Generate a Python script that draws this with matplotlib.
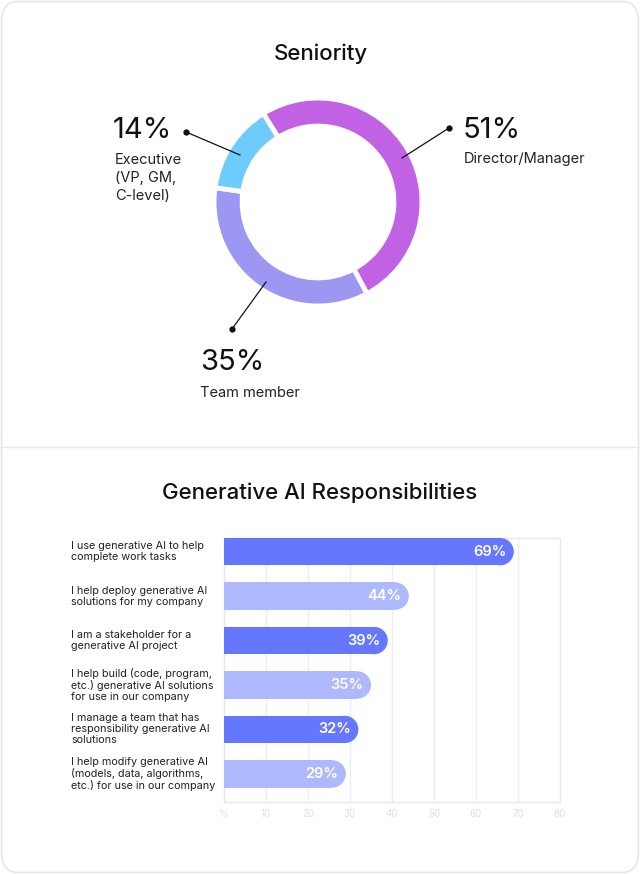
import matplotlib
matplotlib.use("Agg")
import matplotlib.pyplot as plt
from matplotlib.patches import FancyBboxPatch, Ellipse
from matplotlib.lines import Line2D

plt.rcParams['font.family'] = ['Inter', 'DejaVu Sans']

# seniority donut
sen_labels = ["Director/Manager", "Team member", "Executive\n(VP, GM,\nC-level)"]
sen_values = [51, 35, 14]
sen_colors = ["#c062e3", "#9c97f3", "#6dcbfd"]

# responsibilities bars
resp_labels = [
    "I use generative AI to help\ncomplete work tasks",
    "I help deploy generative AI\nsolutions for my company",
    "I am a stakeholder for a\ngenerative AI project",
    "I help build (code, program,\netc.) generative AI solutions\nfor use in our company",
    "I manage a team that has\nresponsibility generative AI\nsolutions",
    "I help modify generative AI\n(models, data, algorithms,\netc.) for use in our company",
]
resp_values = [69, 44, 39, 35, 32, 29]
resp_colors = ["#6477fd", "#aeb8fd"] * 3
x_ticks = [0, 10, 20, 30, 40, 50, 60, 70, 80]
x_ticklabels = ["%", "10", "20", "30", "40", "50", "60", "70", "80"]

W, H = 640, 874
fig = plt.figure(figsize=(W / 100, H / 100), dpi=100)


def fx(x):
    return x / W


def fy(y):
    return 1 - y / H


def px_axes(x0, y0, x1, y1):
    return fig.add_axes([fx(x0), fy(y1), fx(x1) - fx(x0), (y1 - y0) / H])


# card border and divider
border = FancyBboxPatch((fx(1.5), fy(872.5)), fx(637), (871 / H),
                        boxstyle="round,pad=0,rounding_size=0.025",
                        transform=fig.transFigure, facecolor="white",
                        edgecolor="#e3e6f0", lw=1.2, zorder=-5)
fig.add_artist(border)
fig.add_artist(Line2D([fx(1), fx(639)], [fy(447), fy(447)], color="#e6e8f0",
                      lw=1, transform=fig.transFigure))

# ---- donut ----
fig.text(fx(321), fy(54), "Seniority", ha="center", va="center",
         fontsize=16, fontweight="medium", color="#111111")

ax = px_axes(214, 98, 422, 306)
ax.pie(sen_values, colors=sen_colors, startangle=121.7, counterclock=False,
       radius=1.0, wedgeprops=dict(width=0.27, edgecolor="white", linewidth=3.5,
                                   joinstyle="round"))
ax.set_xlim(-1, 1)
ax.set_ylim(-1, 1)
ax.axis("off")

# callouts: (big text pos, small text pos, dot, line end)
callouts = [
    ((463, 130), (464, 160), (449, 128), (402, 158)),
    ((200, 362), (200, 394), (232, 329), (266, 282)),
    ((113, 131), (115, 161), (186, 132), (240, 155)),
]
for (val, lab), (big, small, dot, end) in zip(zip(sen_values, sen_labels), callouts):
    fig.text(fx(big[0]), fy(big[1]), f"{val}%", ha="left", va="center",
             fontsize=21, color="#111111")
    fig.text(fx(small[0]), fy(small[1] - 8), lab, ha="left", va="top",
             fontsize=10.5, color="#222222", linespacing=1.38)
    fig.add_artist(Line2D([fx(dot[0]), fx(end[0])], [fy(dot[1]), fy(end[1])],
                          color="#111111", lw=0.9, transform=fig.transFigure))
    fig.add_artist(Line2D([fx(dot[0])], [fy(dot[1])], marker="o", ms=3.5,
                          color="#111111", transform=fig.transFigure))

# ---- bars ----
fig.text(fx(320), fy(493), "Generative AI Responsibilities", ha="center",
         va="center", fontsize=16, fontweight="medium", color="#111111")

bx0, by0, bx1, by1 = 224, 538, 560, 802
bax = px_axes(bx0, by0, bx1, by1)
ypos = list(range(len(resp_values)))
bh = 0.615
y_lo, y_hi = 5.633, -0.3075
bax.set_xlim(0, 80)
bax.set_ylim(y_lo, y_hi)

px_per_x = (bx1 - bx0) / 80
px_per_y = (by1 - by0) / (y_lo - y_hi)
r = bh * px_per_y / 2 / px_per_x  # cap radius in x units

for y, v, c in zip(ypos, resp_values, resp_colors):
    bax.barh(y, v - r, height=bh, color=c, zorder=3, linewidth=0)
    bax.add_patch(Ellipse((v - r, y), 2 * r, bh, color=c, zorder=3, lw=0))
    bax.text(v - 1.8, y, f"{v}%", ha="right", va="center", color="white",
             fontsize=10.5, fontweight="semibold", zorder=4)

bax.set_xticks(x_ticks)
bax.set_xticklabels(x_ticklabels)
bax.tick_params(axis="x", length=0, labelsize=7, labelcolor="#dcdfea", pad=5)
bax.set_yticks([])
bax.grid(axis="x", color="#eceef5", lw=1, zorder=0)
bax.set_axisbelow(True)
for s in bax.spines.values():
    s.set_color("#e6e8f1")
    s.set_linewidth(1)

for y, lab in zip(ypos, resp_labels):
    ty = by0 + (y - y_hi) * px_per_y
    fig.text(fx(71), fy(ty), lab, ha="left", va="center", fontsize=7.8,
             color="#222222", linespacing=1.12)

fig.savefig("out.png", dpi=100)
